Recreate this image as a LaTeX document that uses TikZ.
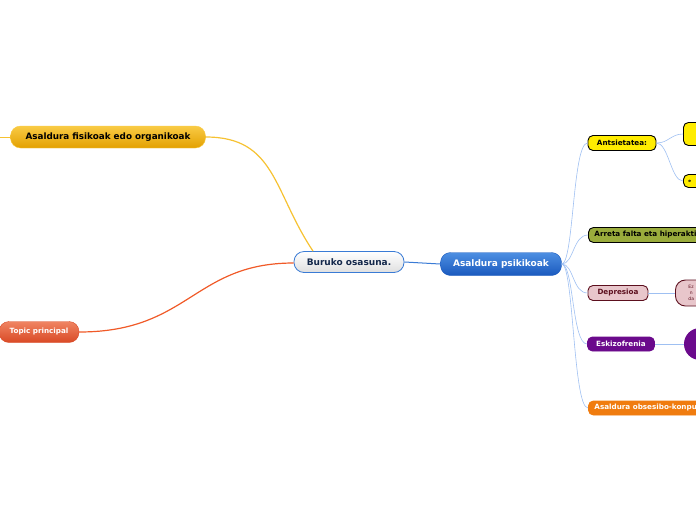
\documentclass[tikz,border=0pt]{standalone}
\usepackage{fontspec}
\setmainfont{DejaVu Sans}
\usepackage{xcolor}
\usetikzlibrary{positioning, shapes, calc}

\definecolor{goldtop}{HTML}{F9CB45}
\definecolor{goldbot}{HTML}{E3A000}
\definecolor{goldline}{HTML}{F6C232}
\definecolor{redtop}{HTML}{F08462}
\definecolor{redbot}{HTML}{D94A26}
\definecolor{redline}{HTML}{F05A28}
\definecolor{bluetop}{HTML}{4D8FE2}
\definecolor{bluebot}{HTML}{1A59BE}
\definecolor{blueline}{HTML}{3A7BD5}
\definecolor{paleblue}{HTML}{9FC0F2}
\definecolor{navy}{HTML}{14284B}
\definecolor{anxyellow}{HTML}{FFEC00}
\definecolor{olive}{HTML}{9AAC3C}
\definecolor{pinkfill}{HTML}{E8C6CB}
\definecolor{maroon}{HTML}{5C0F1E}
\definecolor{violet}{HTML}{6B0A8C}
\definecolor{orangefill}{HTML}{F07C0F}

\begin{document}
\begin{tikzpicture}[x=1pt, y=-1pt,
    topic/.style={rounded corners=10pt, inner sep=0pt, font=\bfseries\fontsize{9}{11}\selectfont},
    subtopic/.style={rounded corners=5pt, inner sep=0pt, line width=0.9pt, font=\bfseries\fontsize{7.2}{8}\selectfont},
    branch/.style={paleblue, line width=0.6pt}]
      \useasboundingbox (0, 0) rectangle (696, 520);
      \clip (0, 0) rectangle (696, 520);

      % Central topic
      \node[topic, draw=blueline, line width=0.8pt, top color=white, bottom color=gray!25,
        text=navy, minimum width=110, minimum height=21] (cent) at (349, 262) {Buruko osasuna.};

      % Main topics
      \node[topic, draw=goldtop, top color=goldtop, bottom color=goldbot,
        minimum width=195, minimum height=22, font=\bfseries\fontsize{8.8}{10}\selectfont] (fis) at (108, 137) {Asaldura fisikoak edo organikoak};
      \node[topic, draw=bluebot, top color=bluetop, bottom color=bluebot, text=white,
        minimum width=121, minimum height=23] (psi) at (501, 264) {Asaldura psikikoak};
      \node[topic, draw=redbot, top color=redtop, bottom color=redbot, text=white,
        minimum width=80, minimum height=21, font=\bfseries\fontsize{7.2}{8}\selectfont] (princ) at (39, 332) {Topic principal};
      \coordinate (fisout) at (-10, 137);

      % Main connectors
      \draw[goldline, line width=1pt] (fis.west) -- (fisout);
      \draw[goldline, line width=1.2pt] (fis.east) .. controls +(70, 0) and +(-40, -60) .. ([xshift=-36pt]cent.north);
      \draw[redline, line width=1.2pt] (princ.east) .. controls +(110, 0) and +(-100, 0) .. ([yshift=-1pt]cent.west);
      \draw[blueline, line width=1pt] (cent.east) -- (psi.west);

      % Subtopics
      \node[subtopic, draw=black, fill=anxyellow, minimum width=68, minimum height=15] (ants) at (622, 143) {Antsietatea:};
      \node[subtopic, draw=black, fill=olive, anchor=west, minimum height=15, inner xsep=6pt] (arreta) at (588, 235) {Arreta falta eta hiperaktibitatea};
      \node[subtopic, draw=maroon, fill=pinkfill, text=maroon, minimum width=60, minimum height=15] (depr) at (618, 293) {Depresioa};
      \node[subtopic, draw=violet, fill=violet, text=white, minimum width=67, minimum height=14] (eski) at (621, 344) {Eskizofrenia};
      \node[subtopic, draw=orangefill, fill=orangefill, text=white, anchor=west, minimum height=14, inner xsep=6pt] (obses) at (588, 408) {Asaldura obsesibo-konpultsiboa};

      \foreach \child in {ants, arreta, depr, eski, obses}
        \draw[branch] (psi.east) .. controls +(12, 0) and +(-15, 0) .. (\child.west);

      % Details
      \node[subtopic, draw=black, fill=anxyellow, anchor=west, minimum width=40, minimum height=23] (antsa) at (683, 134) {};
      \node[subtopic, draw=black, fill=anxyellow, anchor=west, minimum height=13, inner xsep=5pt,
        text width=30, align=left, font=\bfseries\fontsize{4}{5}\selectfont] (antsb) at (683, 181) {e};
      \node[draw=maroon, line width=0.9pt, fill=pinkfill, text=maroon, rounded corners=10pt, anchor=west,
        minimum height=26, inner xsep=13pt, text width=30, align=left, font=\fontsize{4.5}{6}\selectfont] (depra) at (675, 293) {Ez\\ \,\,n\\ da};
      \node[circle, fill=violet, minimum size=32, inner sep=0pt] (eskia) at (700, 344) {};

      \foreach \child in {antsa, antsb}
        \draw[branch] (ants.east) .. controls +(12, 0) and +(-12, 0) .. (\child.west);
      \draw[branch] (depr.east) -- (depra.west);
      \draw[branch] (eski.east) -- (eskia.west);
    \end{tikzpicture}
\end{document}
